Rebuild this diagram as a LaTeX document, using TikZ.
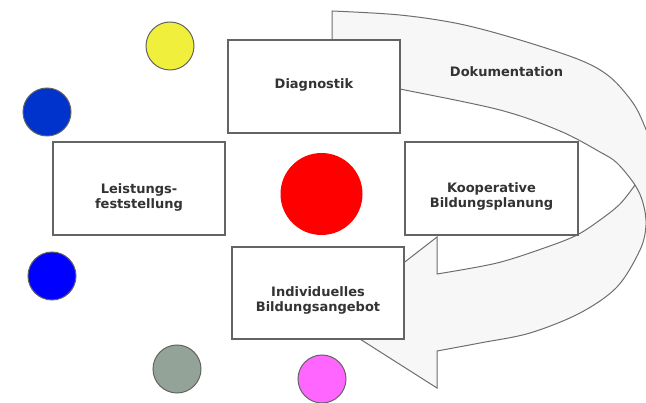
\documentclass[tikz,border=0pt]{standalone}
\usepackage{fontspec}
\setmainfont{DejaVu Sans}
\definecolor{bandfill}{RGB}{247,247,247}
\definecolor{bandgray}{RGB}{110,110,110}
\definecolor{boxgray}{RGB}{100,100,100}
\definecolor{txt}{RGB}{51,51,51}
\definecolor{cyellow}{RGB}{240,240,60}
\definecolor{cdblue}{RGB}{0,51,204}
\definecolor{cblue}{RGB}{0,0,255}
\definecolor{cgray}{RGB}{147,163,152}
\definecolor{cmag}{RGB}{255,102,255}
\definecolor{cred}{RGB}{255,0,0}
\definecolor{dotline}{RGB}{100,100,100}
\begin{document}
\begin{tikzpicture}[x=1pt,y=-1pt,
  boxstyle/.style={draw=boxgray, line width=1.3pt, fill=white, inner sep=0pt},
  lbl/.style={font=\fontsize{13}{15}\selectfont\bfseries, text=txt, align=center, inner sep=0pt},
  dot/.style={circle, draw=dotline, line width=1pt, minimum size=48pt, inner sep=0pt},
  bandline/.style={draw=bandgray, line width=1pt},
  sm/.style={smooth, tension=0.55}]
\useasboundingbox (0,0) rectangle (646,403);
\clip (0,0) rectangle (646,403);

% ribbon arrow (Dokumentation)
\fill[bandfill] (332,70) -- (332,11)
  -- plot[sm] coordinates {(332,11) (400,15) (460,24) (520,40) (580,60) (610,77) (633,103) (645,127) (655,155)}
  -- (670,160) -- (670,225) -- (646,225)
  -- plot[sm] coordinates {(646,225) (640,250) (617,287) (580,313) (530,333) (480,343) (437,351)}
  -- (437,388) -- (330,320) -- (437,237) -- (437,274)
  -- plot[sm] coordinates {(437,274) (497,263) (547,247) (577,235) (600,220) (620,204) (635,185)}
  -- plot[sm] coordinates {(635,185) (617,163) (600,152) (560,131) (500,110) (400,89) (332,75)}
  -- cycle;
\draw[bandline] (332,42) -- plot[sm] coordinates {(332,11) (400,15) (460,24) (520,40) (580,60) (610,77) (633,103) (645,127) (655,155) (662,185)};
\draw[bandline] plot[sm] coordinates {(380,85) (400,89) (500,110) (560,131) (600,152) (617,163) (635,185) (643,203) (646,225) (640,250) (617,287) (580,313) (530,333) (480,343) (437,351)}
  -- (437,388) -- (330,320) -- (437,237) -- (437,274)
  -- plot[sm] coordinates {(437,274) (497,263) (547,247) (577,235) (600,220) (620,204) (635,185)};
\node[lbl, anchor=base] (doku) at (506.5,77) {Dokumentation};

% boxes
\node[boxstyle, minimum width=172pt, minimum height=93pt] (diag) at (314,86.5) {};
\node[boxstyle, minimum width=172pt, minimum height=93pt] (leist) at (139,188.5) {};
\node[boxstyle, minimum width=173pt, minimum height=93pt] (koop) at (491.5,188.5) {};
\node[boxstyle, minimum width=172pt, minimum height=92pt] (indiv) at (318,293) {};

\node[lbl, anchor=base] (diagT) at (314,89) {Diagnostik};
\node[lbl] (leistT) at (139,197) {Leistungs-\\feststellung};
\node[lbl] (koopT) at (491.5,196) {Kooperative\\Bildungsplanung};
\node[lbl] (indivT) at (318,300) {Individuelles\\Bildungsangebot};

% circles
\node[dot, fill=cyellow] (cy) at (170,46) {};
\node[dot, fill=cdblue] (cdb) at (47,112) {};
\node[dot, fill=cblue] (cb) at (52,276) {};
\node[dot, fill=cgray] (cg) at (177,369) {};
\node[dot, fill=cmag] (cm) at (322,379) {};
\node[circle, fill=cred, minimum size=82pt, inner sep=0pt] (cr) at (321.5,194) {};
\end{tikzpicture}
\end{document}
